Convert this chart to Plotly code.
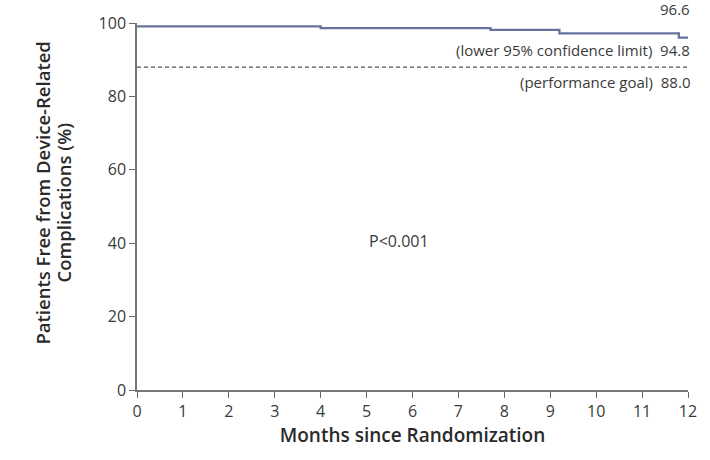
import plotly.graph_objects as go

# Kaplan-Meier style step data
months = [0, 4.0, 7.7, 9.2, 11.8, 12]
free_pct = [99.1, 98.6, 98.1, 97.2, 96.0, 96.0]

goal_x = [0, 12]
goal_y = [88.0, 88.0]

x_ticks = list(range(0, 13))
y_ticks = [0, 20, 40, 60, 80, 100]

y_title_lines = ["Patients Free from Device-Related", "Complications (%)"]
x_title = "Months since Randomization"

font_family = "Open Sans, Lato, sans-serif"
txt_col = "#3a3a3a"
title_col = "#2a2a2a"

fig = go.Figure()
fig.add_trace(go.Scatter(x=goal_x, y=goal_y, mode="lines",
                         line=dict(color="#555555", width=1.3, dash="4px,3px"),
                         hoverinfo="skip", showlegend=False))
fig.add_trace(go.Scatter(x=months, y=free_pct, mode="lines", line_shape="hv",
                         line=dict(color="#66739f", width=2.3),
                         showlegend=False))

ann = [
    dict(x=12, y=100, text="96.6", yshift=14),
    dict(x=12, y=92.7, text="(lower 95% confidence limit)  94.8", yshift=0),
    dict(x=12, y=83.8, text="(performance goal)  88.0", yshift=0),
]
for a in ann:
    fig.add_annotation(x=a["x"], y=a["y"], text=a["text"], showarrow=False,
                       xanchor="right", yanchor="middle", xshift=4, yshift=a["yshift"],
                       font=dict(family=font_family, size=15, color=txt_col))
fig.add_annotation(x=5.7, y=40.5, text="P<0.001", showarrow=False,
                   font=dict(family=font_family, size=16, color=txt_col))

# two-line rotated y-axis title
for txt, xp, yp in zip(y_title_lines, [-0.1706, -0.1343], [0.538, 0.511]):
    fig.add_annotation(xref="paper", yref="paper", x=xp, y=yp, text=txt,
                       textangle=-90, showarrow=False, xanchor="center", yanchor="middle",
                       font=dict(family=font_family, size=18.5, color=title_col, weight=600))

fig.update_layout(
    width=710, height=460,
    margin=dict(l=137, r=22, t=18, b=70),
    plot_bgcolor="white", paper_bgcolor="white",
    font=dict(family=font_family, size=14, color=txt_col),
    xaxis=dict(range=[0, 12], tickvals=x_ticks, ticks="outside", ticklen=6,
               tickcolor="#666", showline=True, linecolor="#777", linewidth=1.5,
               showgrid=False, zeroline=False, ticklabeloverflow="allow",
               tickfont=dict(size=16, color=txt_col),
               title=dict(text=x_title, standoff=8,
                          font=dict(size=19, color=title_col, weight=600))),
    yaxis=dict(range=[0, 100], tickvals=y_ticks, ticks="outside", ticklen=6,
               tickcolor="#666", showline=True, linecolor="#777", linewidth=1.5,
               showgrid=False, zeroline=False, ticklabeloverflow="allow",
               tickfont=dict(size=16, color=txt_col)),
)

fig.write_html("out.html", config={"displayModeBar": False},
               post_script="document.body.style.margin='0px';document.body.style.padding='0px';")
